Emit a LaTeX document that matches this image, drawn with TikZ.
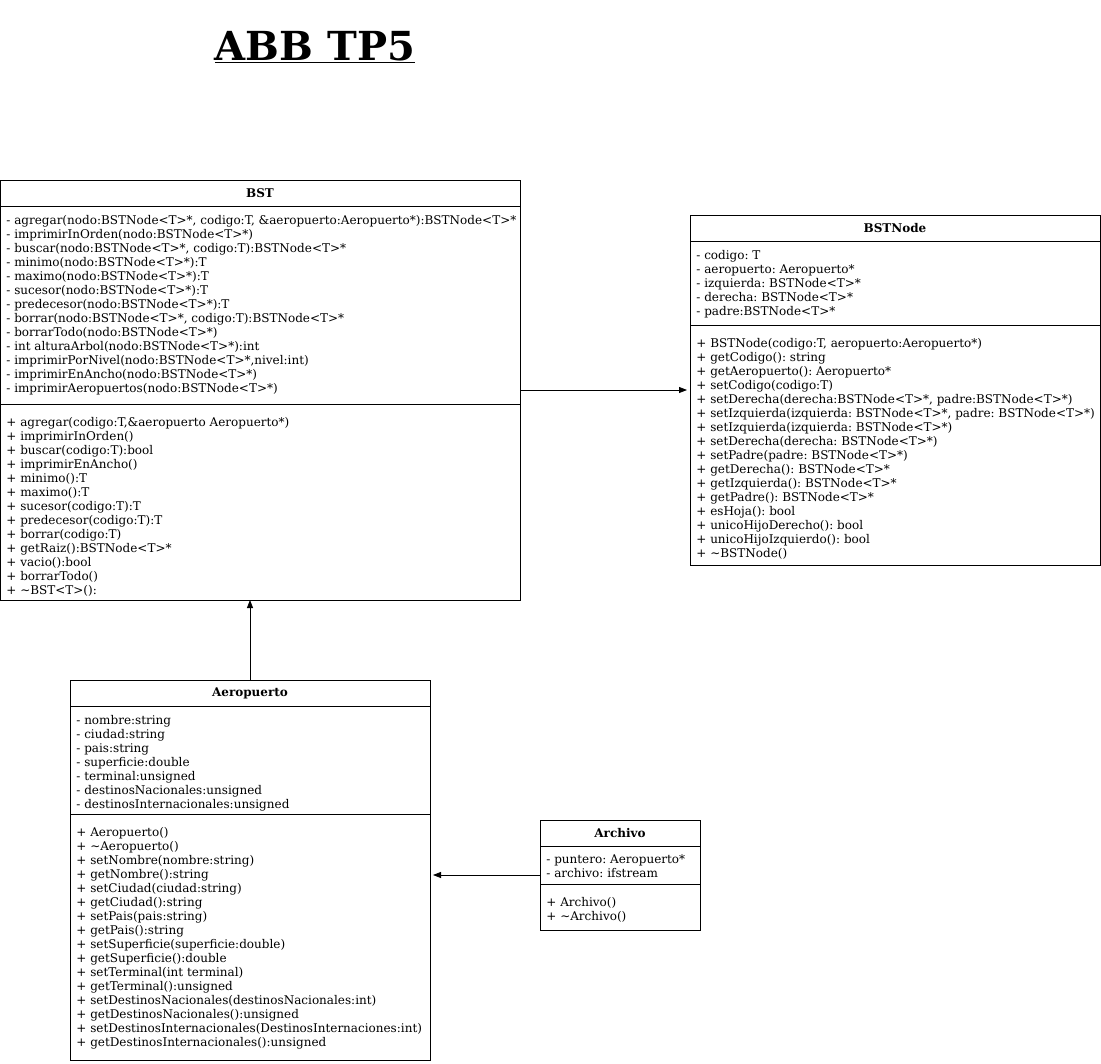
\documentclass[tikz,border=0pt]{standalone}
\usepackage{fontspec}
\setmainfont{DejaVu Serif}
\frenchspacing
\usetikzlibrary{positioning,fit,arrows.meta}
\begin{document}
\begin{tikzpicture}
    [
        x = 1pt, y = -1pt,
        line width = 0.8pt,
        head/.style = {draw, outer sep = 0pt, inner sep = 0pt, minimum height = 26pt,
            font = \fontsize{12}{14}\selectfont\bfseries},
        part/.style = {draw, outer sep = 0pt, inner sep = 0pt},
        lines/.style = {inner sep = 0pt, align = left, font = \fontsize{12}{14}\selectfont},
        box/.style = {fit = #1, inner sep = 0pt, outer sep = 0pt},
        rel/.style = {-{Triangle[length = 8pt, width = 6pt]}}
    ]

        \useasboundingbox (0,0) rectangle (1101,1064);

        \node[font = \fontsize{40}{48}\selectfont\bfseries] (title) at (315,47) {\underline{ABB TP5}};

        % BST
        \node[head, minimum width = 520pt, anchor = north west] (bst) at (0,180) {BST};
        \node[part, minimum width = 520pt, minimum height = 198pt, below = 0pt of bst] (bstattr) {};
        \node[part, minimum width = 520pt, minimum height = 196pt, below = 0pt of bstattr] (bstops) {};
        \node[box = (bst)(bstops)] (bstbox) {};
        \node[lines, below right = 8.5pt and 6pt of bstattr.north west] (bstattrtext) {
            - agregar(nodo:BSTNode<T>*, codigo:T, \&aeropuerto:Aeropuerto*):BSTNode<T>*\\
            - imprimirInOrden(nodo:BSTNode<T>*)\\
            - buscar(nodo:BSTNode<T>*, codigo:T):BSTNode<T>*\\
            - minimo(nodo:BSTNode<T>*):T\\
            - maximo(nodo:BSTNode<T>*):T\\
            - sucesor(nodo:BSTNode<T>*):T\\
            - predecesor(nodo:BSTNode<T>*):T\\
            - borrar(nodo:BSTNode<T>*, codigo:T):BSTNode<T>*\\
            - borrarTodo(nodo:BSTNode<T>*)\\
            - int alturaArbol(nodo:BSTNode<T>*):int\\
            - imprimirPorNivel(nodo:BSTNode<T>*,nivel:int)\\
            - imprimirEnAncho(nodo:BSTNode<T>*)\\
            - imprimirAeropuertos(nodo:BSTNode<T>*)};
        \node[lines, below right = 12.5pt and 6pt of bstops.north west] (bstopstext) {
            + agregar(codigo:T,\&aeropuerto Aeropuerto*)\\
            + imprimirInOrden()\\
            + buscar(codigo:T):bool\\
            + imprimirEnAncho()\\
            + minimo():T\\
            + maximo():T\\
            + sucesor(codigo:T):T\\
            + predecesor(codigo:T):T\\
            + borrar(codigo:T)\\
            + getRaiz():BSTNode<T>*\\
            + vacio():bool\\
            + borrarTodo()\\
            + \textasciitilde BST<T>():};

        % BSTNode
        \node[head, minimum width = 410pt, anchor = north west] (bstnode) at (690,215) {BSTNode};
        \node[part, minimum width = 410pt, minimum height = 84pt, below = 0pt of bstnode] (bstnodeattr) {};
        \node[part, minimum width = 410pt, minimum height = 240pt, below = 0pt of bstnodeattr] (bstnodeops) {};
        \node[box = (bstnode)(bstnodeops)] (bstnodebox) {};
        \node[lines, below right = 8.5pt and 6pt of bstnodeattr.north west] (bstnodeattrtext) {
            - codigo: T\\
            - aeropuerto: Aeropuerto*\\
            - izquierda: BSTNode<T>*\\
            - derecha: BSTNode<T>*\\
            - padre:BSTNode<T>*};
        \node[lines, below right = 12.5pt and 6pt of bstnodeops.north west] (bstnodeopstext) {
            + BSTNode(codigo:T, aeropuerto:Aeropuerto*)\\
            + getCodigo(): string\\
            + getAeropuerto(): Aeropuerto*\\
            + setCodigo(codigo:T)\\
            + setDerecha(derecha:BSTNode<T>*, padre:BSTNode<T>*)\\
            + setIzquierda(izquierda: BSTNode<T>*, padre: BSTNode<T>*)\\
            + setIzquierda(izquierda: BSTNode<T>*)\\
            + setDerecha(derecha: BSTNode<T>*)\\
            + setPadre(padre: BSTNode<T>*)\\
            + getDerecha(): BSTNode<T>*\\
            + getIzquierda(): BSTNode<T>*\\
            + getPadre(): BSTNode<T>*\\
            + esHoja(): bool\\
            + unicoHijoDerecho(): bool\\
            + unicoHijoIzquierdo(): bool\\
            + \textasciitilde BSTNode()};

        % Aeropuerto
        \node[head, minimum width = 360pt, anchor = north west] (aero) at (70,680) {Aeropuerto};
        \node[part, minimum width = 360pt, minimum height = 108pt, below = 0pt of aero] (aeroattr) {};
        \node[part, minimum width = 360pt, minimum height = 246pt, below = 0pt of aeroattr] (aeroops) {};
        \node[box = (aero)(aeroops)] (aerobox) {};
        \node[lines, below right = 8.5pt and 6pt of aeroattr.north west] (aeroattrtext) {
            - nombre:string\\
            - ciudad:string\\
            - pais:string\\
            - superficie:double\\
            - terminal:unsigned\\
            - destinosNacionales:unsigned\\
            - destinosInternacionales:unsigned};
        \node[lines, below right = 12.5pt and 6pt of aeroops.north west] (aeroopstext) {
            + Aeropuerto()\\
            + \textasciitilde Aeropuerto()\\
            + setNombre(nombre:string)\\
            + getNombre():string\\
            + setCiudad(ciudad:string)\\
            + getCiudad():string\\
            + setPais(pais:string)\\
            + getPais():string\\
            + setSuperficie(superficie:double)\\
            + getSuperficie():double\\
            + setTerminal(int terminal)\\
            + getTerminal():unsigned\\
            + setDestinosNacionales(destinosNacionales:int)\\
            + getDestinosNacionales():unsigned\\
            + setDestinosInternacionales(DestinosInternaciones:int)\\
            + getDestinosInternacionales():unsigned};

        % Archivo
        \node[head, minimum width = 160pt, anchor = north west] (arch) at (540,820) {Archivo};
        \node[part, minimum width = 160pt, minimum height = 38pt, below = 0pt of arch] (archattr) {};
        \node[part, minimum width = 160pt, minimum height = 46pt, below = 0pt of archattr] (archops) {};
        \node[box = (arch)(archops)] (archbox) {};
        \node[lines, below right = 8.5pt and 6pt of archattr.north west] (archattrtext) {
            - puntero: Aeropuerto*\\
            - archivo: ifstream};
        \node[lines, below right = 12.5pt and 6pt of archops.north west] (archopstext) {
            + Archivo()\\
            + \textasciitilde Archivo()};

        \draw[rel] (bstbox.east) -- ([xshift = -3pt]bstnodebox.west);
        \draw[rel] (aerobox.north) -- (aerobox.north |- bstbox.south);
        \draw[rel] (archbox.west) -- ([xshift = 3pt]aerobox.east |- archbox.west);
    \end{tikzpicture}
\end{document}
